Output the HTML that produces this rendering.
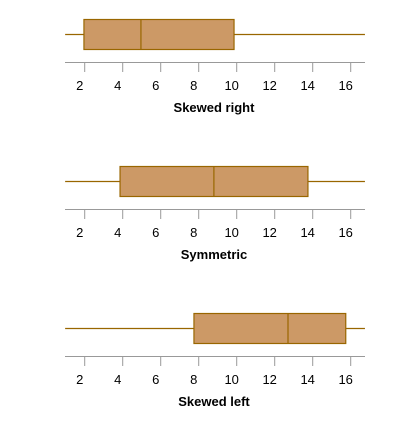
<!DOCTYPE html>
<html><head><meta charset="utf-8"><style>
body{margin:0;background:#fff}
svg text{font-family:"Liberation Sans",sans-serif;font-size:13px;fill:#000}
</style></head><body>
<svg width="408" height="423" id="c"></svg>
<script>
const titles=["Skewed right","Symmetric","Skewed left"];
const mins=[0.97,0.97,0.97];
const q1s=[1.96,3.86,7.75];
const medians=[4.96,8.8,12.7];
const q3s=[9.86,13.75,15.74];
const maxs=[16.75,16.75,16.75];
const ticks=[2,4,6,8,10,12,14,16];
const offsets=[0,147,294];
const svg=document.getElementById('c');
const NS='http://www.w3.org/2000/svg';
const x=v=>46.7+v*19;
function el(t,a,p){const e=document.createElementNS(NS,t);for(const k in a)e.setAttribute(k,a[k]);(p||svg).appendChild(e);return e;}
titles.forEach((t,i)=>{
  const o=offsets[i];
  const g=el('g',{});
  
  
  const w=el('line',{x1:x(mins[i]),x2:x(maxs[i]),y1:34.5+o,y2:34.5+o,stroke:'#996600','stroke-width':1.2},g);
  
  
  const b=el('rect',{x:x(q1s[i]),y:19.5+o,width:x(q3s[i])-x(q1s[i]),height:30,fill:'#cc9966',stroke:'#996600','stroke-width':1.2},g);
  
  
  const m=el('line',{x1:x(medians[i]),x2:x(medians[i]),y1:19.5+o,y2:49.5+o,stroke:'#996600','stroke-width':1.2},g);
  
  
  const a=el('line',{x1:65,x2:365,y1:62.5+o,y2:62.5+o,stroke:'#999','stroke-width':1},g);
  
  
  ticks.forEach(v=>{
    const tk=el('line',{x1:x(v),x2:x(v),y1:62.5+o,y2:72+o,stroke:'#999'},g);
    
    
    const tl=el('text',{x:x(v)-5,y:90+o,'text-anchor':'middle'},g);
    tl.textContent=v;
    
    
  });
  const tt=el('text',{x:214,y:112+o,'text-anchor':'middle','font-weight':'bold','font-size':'12.5'},g);
  tt.textContent=t;
  
  
});
</script>
</body></html>
